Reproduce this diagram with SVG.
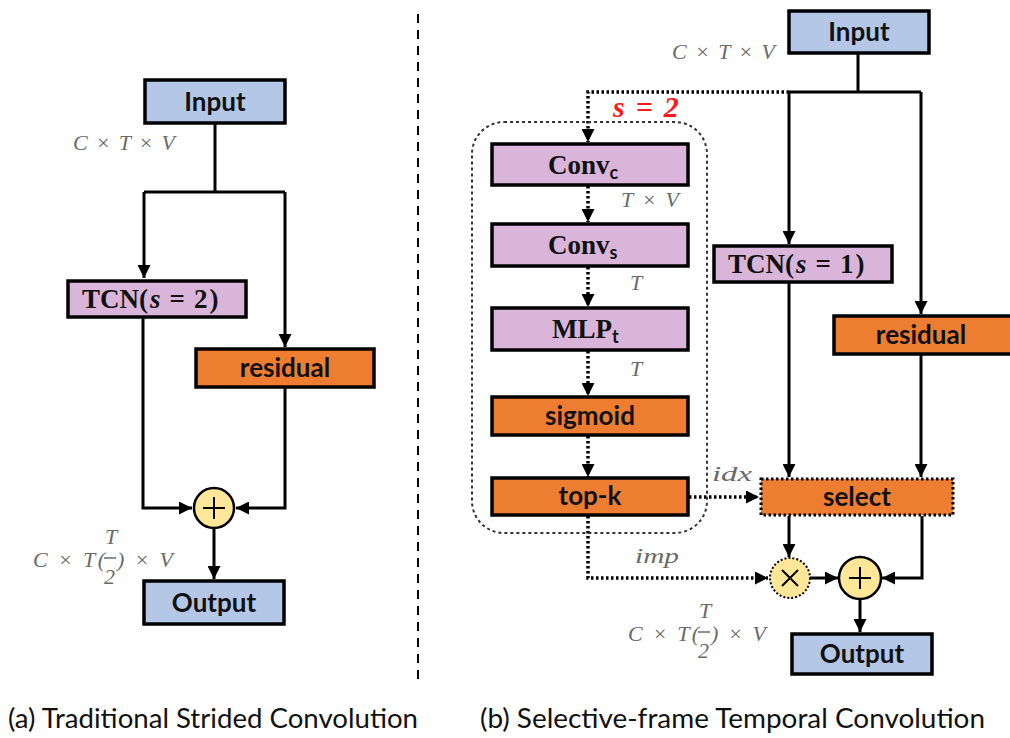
<svg xmlns="http://www.w3.org/2000/svg" width="1010" height="738" viewBox="0 0 1010 738">
<defs>
<style>
.box{stroke:#000;stroke-width:3.5}
.blue{fill:#b4c7e7}
.pink{fill:#d9b6d9}
.orange{fill:#ed7d31}
.lbl{font-family:Lato,"Open Sans",sans-serif;font-weight:bold;font-size:26px;fill:#111;text-anchor:middle}
.ser{font-family:"Liberation Serif","DejaVu Serif",serif;font-weight:bold;font-size:27px;fill:#111}
.sub{font-family:Lato,sans-serif;font-weight:bold;font-size:18px}
.math{font-family:"Liberation Serif","DejaVu Serif",serif;font-style:italic;font-size:22px;fill:#6a6a6a}
.ln{fill:none;stroke:#000;stroke-width:3}
.dot{fill:none;stroke:#000;stroke-width:3.5;stroke-dasharray:2.5 2.5}
.cap{font-family:Lato,"Open Sans",sans-serif;font-size:27px;fill:#111}
</style>
<marker id="ah" viewBox="0 0 10 10" refX="10" refY="5" markerWidth="13" markerHeight="13" markerUnits="userSpaceOnUse" orient="auto">
<path d="M0,0 L10,5 L0,10 z" fill="#000"/>
</marker>
</defs>
<rect width="1010" height="738" fill="#fff"/>

<!-- divider -->
<line x1="418" y1="14" x2="418" y2="682" stroke="#000" stroke-width="2" stroke-dasharray="9 7"/>

<g id="connectors">
<!-- left panel -->
<polyline class="ln" points="215,124 215,192"/>
<polyline class="ln" points="144,192 285,192"/>
<polyline class="ln" points="144,192 144,278" marker-end="url(#ah)"/>
<polyline class="ln" points="285,192 285,347" marker-end="url(#ah)"/>
<polyline class="ln" points="143,317 143,508 192,508" marker-end="url(#ah)"/>
<polyline class="ln" points="285,388 285,508 236,508" marker-end="url(#ah)"/>
<polyline class="ln" points="214,529 214,579" marker-end="url(#ah)"/>
<!-- right panel -->
<polyline class="ln" points="858,53 858,92"/>
<polyline class="ln" points="789,92 921,92"/>
<polyline class="dot" points="789,92 588,92 588,142" marker-end="url(#ah)"/>
<polyline class="dot" points="588,186 588,222" marker-end="url(#ah)"/>
<polyline class="dot" points="588,267 588,307" marker-end="url(#ah)"/>
<polyline class="dot" points="588,351 588,396" marker-end="url(#ah)"/>
<polyline class="dot" points="588,436 588,477" marker-end="url(#ah)"/>
<polyline class="dot" points="689,497 759,497" marker-end="url(#ah)"/>
<polyline class="dot" points="588,516 588,578 768,578" marker-end="url(#ah)"/>
<polyline class="ln" points="789,92 789,244" marker-end="url(#ah)"/>
<polyline class="ln" points="921,92 921,314" marker-end="url(#ah)"/>
<polyline class="ln" points="789,282 789,477" marker-end="url(#ah)"/>
<polyline class="ln" points="921,355 921,477" marker-end="url(#ah)"/>
<polyline class="ln" points="789,516 789,557" marker-end="url(#ah)"/>
<polyline class="ln" points="810,578 838,578" marker-end="url(#ah)"/>
<polyline class="ln" points="922,516 922,578 882,578" marker-end="url(#ah)"/>
<polyline class="ln" points="860,599 860,632" marker-end="url(#ah)"/>
</g>

<!-- left panel nodes -->
<g id="a-input"><rect class="box blue" x="145" y="80" width="140" height="43"/><text class="lbl" x="215" y="111">Input</text></g>
<g id="a-dim-in"><text class="math" x="73" y="150" textLength="102" lengthAdjust="spacing">C × T × V</text></g>
<g id="a-tcn"><rect class="box pink" x="68" y="281" width="178" height="36"/><text class="ser" x="82" y="308">TCN(<tspan font-style="italic" dx="2">s</tspan><tspan dx="9">=</tspan><tspan dx="9">2</tspan><tspan dx="2">)</tspan></text></g>
<g id="a-residual"><rect class="box orange" x="196" y="349" width="178" height="38"/><text class="lbl" x="285" y="377">residual</text></g>
<g id="a-add"><circle cx="214" cy="508" r="20" fill="#ffe699" stroke="#000" stroke-width="2.5"/><path d="M203,508 H225 M214,497 V519" stroke="#000" stroke-width="2"/></g>
<g id="a-dim-out"><text class="math" x="33" y="567" textLength="72" lengthAdjust="spacing">C × T(</text><text class="math" x="105" y="544">T</text><line x1="104" y1="558" x2="116" y2="558" stroke="#6a6a6a" stroke-width="1.5"/><text class="math" x="104" y="584" font-style="normal">2</text><text class="math" x="117" y="567" textLength="56" lengthAdjust="spacing">) × V</text></g>
<g id="a-output"><rect class="box blue" x="144" y="581" width="140" height="43"/><text class="lbl" x="214" y="612">Output</text></g>

<!-- right panel nodes -->
<g id="b-input"><rect class="box blue" x="789" y="11" width="140" height="42"/><text class="lbl" x="859" y="41">Input</text></g>
<g id="b-dim-in"><text class="math" x="672" y="59" textLength="103" lengthAdjust="spacing">C × T × V</text></g>
<g id="b-s2"><text x="613" y="117" font-family="'Liberation Serif','DejaVu Serif',serif" font-style="italic" font-weight="bold" font-size="30" fill="#ff1a1a">s<tspan dx="11">=</tspan><tspan dx="11">2</tspan></text></g>
<g id="b-frame"><rect x="472" y="122" width="235" height="411" rx="32" ry="32" fill="none" stroke="#333" stroke-width="2" stroke-dasharray="3 3"/></g>
<g id="b-convc"><rect class="box pink" x="492" y="144" width="196" height="41"/><text class="ser" x="548" y="174">Conv<tspan class="sub" dy="5">c</tspan></text></g>
<g id="b-dim1"><text class="math" x="621" y="207" textLength="58" lengthAdjust="spacing">T × V</text></g>
<g id="b-convs"><rect class="box pink" x="492" y="224" width="196" height="42"/><text class="ser" x="548" y="254">Conv<tspan class="sub" dy="5">s</tspan></text></g>
<g id="b-dim2"><text class="math" x="630" y="290">T</text></g>
<g id="b-mlp"><rect class="box pink" x="492" y="308" width="196" height="42"/><text class="ser" x="552" y="338">MLP<tspan class="sub" dy="5">t</tspan></text></g>
<g id="b-dim3"><text class="math" x="630" y="376">T</text></g>
<g id="b-sigmoid"><rect class="box orange" x="492" y="397" width="196" height="38"/><text class="lbl" x="590" y="425">sigmoid</text></g>
<g id="b-topk"><rect class="box orange" x="492" y="478" width="196" height="37"/><text class="lbl" x="590" y="505">top-k</text></g>
<g id="b-idx"><text class="math" x="712" y="481" font-size="24" textLength="40" lengthAdjust="spacingAndGlyphs">idx</text></g>
<g id="b-imp"><text class="math" x="635" y="563" font-size="24" textLength="44" lengthAdjust="spacingAndGlyphs">imp</text></g>
<g id="b-tcn"><rect class="box pink" x="714" y="246" width="178" height="36"/><text class="ser" x="728" y="273">TCN(<tspan font-style="italic" dx="2">s</tspan><tspan dx="9">=</tspan><tspan dx="9">1</tspan><tspan dx="2">)</tspan></text></g>
<g id="b-residual"><rect class="box orange" x="834" y="316" width="178" height="38"/><text class="lbl" x="921" y="344">residual</text></g>
<g id="b-select"><rect x="761" y="479" width="192" height="36" fill="#ed7d31" stroke="#000" stroke-width="3" stroke-dasharray="2.5 2.5"/><text class="lbl" x="857" y="506">select</text></g>
<g id="b-mul"><circle cx="790" cy="578" r="20" fill="#ffe699" stroke="#000" stroke-width="2" stroke-dasharray="2 2"/><path d="M782,570 L798,586 M798,570 L782,586" stroke="#000" stroke-width="2"/></g>
<g id="b-add"><circle cx="860" cy="578" r="21" fill="#ffe699" stroke="#000" stroke-width="2.5"/><path d="M849,578 H871 M860,567 V589" stroke="#000" stroke-width="2"/></g>
<g id="b-dim-out"><text class="math" x="628" y="641" textLength="71" lengthAdjust="spacing">C × T(</text><text class="math" x="699" y="618">T</text><line x1="698" y1="632" x2="710" y2="632" stroke="#6a6a6a" stroke-width="1.5"/><text class="math" x="698" y="658" font-style="normal">2</text><text class="math" x="711" y="641" textLength="55" lengthAdjust="spacing">) × V</text></g>
<g id="b-output"><rect class="box blue" x="792" y="634" width="140" height="40"/><text class="lbl" x="862" y="663">Output</text></g>

<g id="captions">
<text class="cap" x="8" y="728" textLength="410" lengthAdjust="spacingAndGlyphs">(a) Traditional Strided Convolution</text>
<text class="cap" x="480" y="728" textLength="505" lengthAdjust="spacingAndGlyphs">(b) Selective-frame Temporal Convolution</text>
</g>
</svg>
